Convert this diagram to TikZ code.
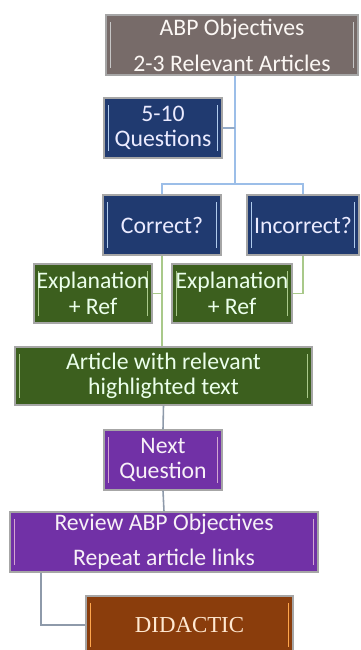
\documentclass[tikz,border=0pt]{standalone}
\usepackage{fontspec}
\setmainfont{Carlito}
\newfontfamily\didfont{Liberation Serif}
\usepackage{xcolor}

\definecolor{boxgray}{HTML}{776B69}
\definecolor{boxblue}{HTML}{203A70}
\definecolor{boxgreen}{HTML}{3C5F1E}
\definecolor{boxpurple}{HTML}{7131A6}
\definecolor{boxbrown}{HTML}{8A3D0C}
\definecolor{lnblue}{HTML}{9CBEE8}
\definecolor{lngreen}{HTML}{A9C98A}
\definecolor{lngray}{HTML}{8E9AAA}

\tikzset{
  box/.style={draw=gray!70, line width=0.8pt, fill=#1, align=center, inner sep=0pt,
    font=\fontsize{13.5}{14.5}\selectfont},
  edges/.style={path picture={
    \draw[#1, line width=0.9pt] ([xshift=0.09cm,yshift=-0.14cm]path picture bounding box.north west)
      -- ([xshift=0.09cm,yshift=0.14cm]path picture bounding box.south west);
    \draw[#1, line width=0.9pt] ([xshift=-0.09cm,yshift=-0.14cm]path picture bounding box.north east)
      -- ([xshift=-0.09cm,yshift=0.14cm]path picture bounding box.south east);}},
  graybox/.style={box=boxgray, edges=gray!45, text=white!94!brown},
  bluebox/.style={box=boxblue, edges=lnblue!80, text=white!92!blue},
  greenbox/.style={box=boxgreen, edges=lngreen, text=white!92!green},
  purplebox/.style={box=boxpurple, edges=violet!35, text=white!94!violet},
  brownbox/.style={box=boxbrown, edges=orange!70, text=orange!18, font=\didfont\fontsize{13}{14}\selectfont},
  link/.style={line width=0.9pt}
}

\begin{document}
\begin{tikzpicture}[x=0.02cm, y=-0.02cm]

  \useasboundingbox (0,0) rectangle (360,650);

  % boxes
  \node[graybox, minimum width=5.04cm, minimum height=1.2cm, font=\fontsize{13.5}{20.5}\selectfont]
    (objectives) at (232,45) {ABP Objectives\\2-3 Relevant Articles};
  \node[bluebox, minimum width=2.36cm, minimum height=1.2cm] (questions) at (163,128) {5-10\\Questions};
  \node[bluebox, minimum width=2.36cm, minimum height=1.2cm] (correct) at (162,225) {Correct?};
  \node[bluebox, minimum width=2.24cm, minimum height=1.2cm] (incorrect) at (303,225) {Incorrect?};
  \node[greenbox, minimum width=2.36cm, minimum height=1.18cm] (explA) at (93,293.5) {Explanation\\+ Ref};
  \node[greenbox, minimum width=2.4cm, minimum height=1.18cm] (explB) at (232,293.5) {Explanation\\+ Ref};
  \node[greenbox, minimum width=5.94cm, minimum height=1.16cm] (article) at (163.5,376) {Article with relevant\\highlighted text};
  \node[purplebox, minimum width=2.36cm, minimum height=1.2cm] (next) at (163,460) {Next\\Question};
  \node[purplebox, minimum width=6.16cm, minimum height=1.2cm, font=\fontsize{13.5}{20}\selectfont]
    (review) at (164,542) {Review ABP Objectives\\Repeat article links};
  \node[brownbox, minimum width=4.14cm, minimum height=1.16cm] (didactic) at (189.5,625) {DIDACTIC};

  \coordinate (split) at (235,184);
  \coordinate (revleg) at (41,0);

  % connectors
  \draw[link, lnblue] (objectives.south -| split) -- (split);
  \draw[link, lnblue!70!gray] (questions.east) -- (questions.east -| split);
  \draw[link, lnblue] (correct.north) |- (split) -| (incorrect.north);
  \draw[link, lngreen] (correct.south) -- (correct.south |- article.north);
  \draw[link, lngreen] (explA.east) -- (explA.east -| correct.south);
  \draw[link, lngreen] (incorrect.south) |- (explB.east);
  \draw[link, lngray] (article.south) -- (next.north);
  \draw[link, lngray] (next.south) -- (review.north);
  \draw[link, lngray] (review.south -| revleg) |- (didactic.west);

\end{tikzpicture}
\end{document}
